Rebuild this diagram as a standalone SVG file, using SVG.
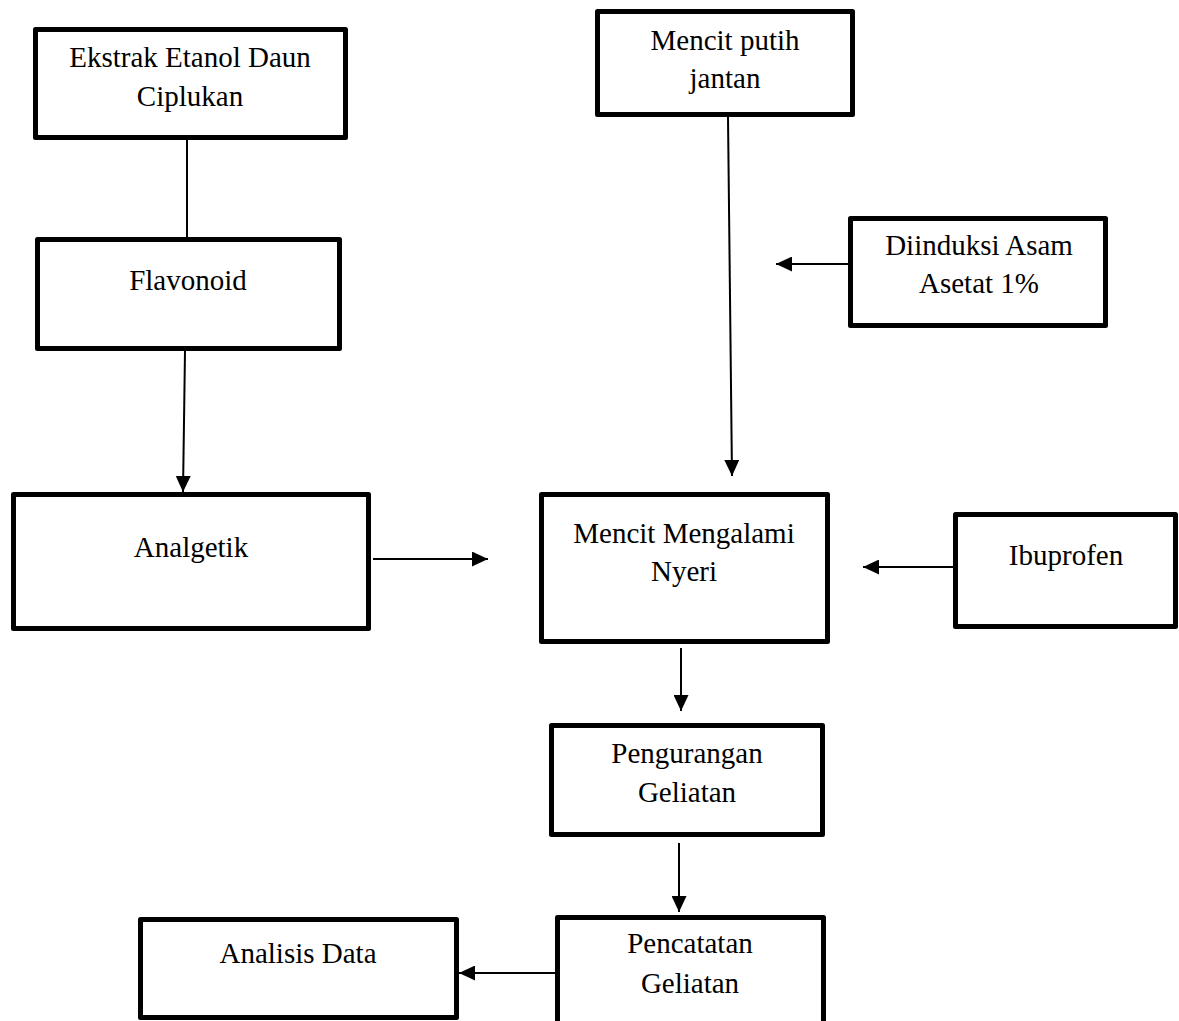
<svg xmlns="http://www.w3.org/2000/svg" width="1179" height="1021" viewBox="0 0 1179 1021">
<style>
.box{fill:#fff;stroke:#000;stroke-width:5;stroke-linejoin:round}
.t{font-family:"Liberation Serif","Times New Roman",serif;font-size:29px;fill:#000;text-anchor:middle}
.c{stroke:#000;stroke-width:2;fill:none}
</style>
<defs>
<marker id="ah" markerUnits="userSpaceOnUse" markerWidth="16" markerHeight="15" refX="16" refY="7.5" orient="auto">
<path d="M0,0 L16,7.5 L0,15 z" fill="#000"/>
</marker>
</defs>
<rect width="1179" height="1021" fill="#fff"/>
<g id="connectors">
<line class="c" x1="187" y1="140" x2="187" y2="237"/>
<line class="c" x1="185" y1="351" x2="183" y2="492" marker-end="url(#ah)"/>
<line class="c" x1="728" y1="117" x2="732" y2="476" marker-end="url(#ah)"/>
<line class="c" x1="848" y1="264" x2="776" y2="264" marker-end="url(#ah)"/>
<line class="c" x1="373" y1="559" x2="488" y2="559" marker-end="url(#ah)"/>
<line class="c" x1="953" y1="567" x2="863" y2="567" marker-end="url(#ah)"/>
<line class="c" x1="681" y1="648" x2="681" y2="711" marker-end="url(#ah)"/>
<line class="c" x1="679" y1="843" x2="679" y2="912" marker-end="url(#ah)"/>
<line class="c" x1="555" y1="973" x2="459" y2="973" marker-end="url(#ah)"/>
</g>
<g id="ekstrak">
<rect class="box" x="35.5" y="29.5" width="310" height="108"/>
<text class="t" x="190" y="67">Ekstrak Etanol Daun</text>
<text class="t" x="190" y="106">Ciplukan</text>
</g>
<g id="flavonoid">
<rect class="box" x="37.5" y="239.5" width="302" height="109"/>
<text class="t" x="188" y="290">Flavonoid</text>
</g>
<g id="analgetik">
<rect class="box" x="13.5" y="494.5" width="355" height="134"/>
<text class="t" x="191" y="557">Analgetik</text>
</g>
<g id="mencit-putih">
<rect class="box" x="597.5" y="11.5" width="255" height="103"/>
<text class="t" x="725" y="50">Mencit putih</text>
<text class="t" x="725" y="88">jantan</text>
</g>
<g id="diinduksi">
<rect class="box" x="850.5" y="218.5" width="255" height="107"/>
<text class="t" x="979" y="255">Diinduksi Asam</text>
<text class="t" x="979" y="293">Asetat 1%</text>
</g>
<g id="mencit-nyeri">
<rect class="box" x="541.5" y="494.5" width="286" height="147"/>
<text class="t" x="684" y="543">Mencit Mengalami</text>
<text class="t" x="684" y="581">Nyeri</text>
</g>
<g id="ibuprofen">
<rect class="box" x="955.5" y="514.5" width="220" height="112"/>
<text class="t" x="1066" y="565">Ibuprofen</text>
</g>
<g id="pengurangan">
<rect class="box" x="551.5" y="725.5" width="271" height="109"/>
<text class="t" x="687" y="763">Pengurangan</text>
<text class="t" x="687" y="802">Geliatan</text>
</g>
<g id="pencatatan">
<rect class="box" x="557.5" y="917.5" width="266" height="115"/>
<text class="t" x="690" y="953">Pencatatan</text>
<text class="t" x="690" y="993">Geliatan</text>
</g>
<g id="analisis">
<rect class="box" x="140.5" y="919.5" width="316" height="98"/>
<text class="t" x="298" y="963">Analisis Data</text>
</g>
</svg>
